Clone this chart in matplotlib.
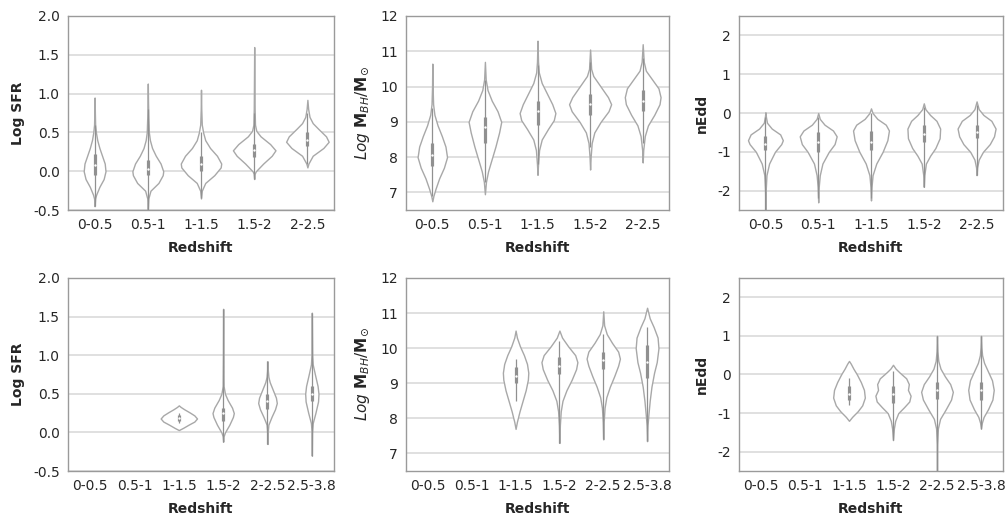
import numpy as np
import matplotlib
matplotlib.use('Agg')
import matplotlib.pyplot as plt

cats_top = ['0-0.5', '0.5-1', '1-1.5', '1.5-2', '2-2.5']
cats_bot = ['0-0.5', '0.5-1', '1-1.5', '1.5-2', '2-2.5', '2.5-3.8']

# violin outlines: (value, half width in category units)
sfr_top = [
    [(-0.45, 0), (-0.35, 0.01), (-0.3, 0.03), (-0.2, 0.09), (-0.1, 0.17), (0.0, 0.205), (0.1, 0.19),
     (0.2, 0.14), (0.3, 0.09), (0.4, 0.05), (0.5, 0.025), (0.6, 0.01), (0.75, 0.005), (0.95, 0)],
    [(-0.5, 0), (-0.35, 0.01), (-0.25, 0.05), (-0.15, 0.2), (-0.05, 0.28), (0.0, 0.29), (0.1, 0.24),
     (0.2, 0.15), (0.3, 0.08), (0.4, 0.04), (0.5, 0.02), (0.7, 0.01), (0.9, 0.004), (1.13, 0)],
    [(-0.35, 0), (-0.25, 0.015), (-0.15, 0.08), (-0.05, 0.25), (0.05, 0.37), (0.1, 0.38), (0.2, 0.3),
     (0.3, 0.17), (0.4, 0.08), (0.5, 0.04), (0.6, 0.015), (0.8, 0.005), (1.05, 0)],
    [(-0.1, 0), (-0.03, 0.01), (0.0, 0.03), (0.1, 0.17), (0.2, 0.33), (0.27, 0.4), (0.35, 0.3),
     (0.45, 0.12), (0.52, 0.04), (0.6, 0.015), (0.8, 0.008), (1.2, 0.004), (1.6, 0)],
    [(0.05, 0), (0.1, 0.02), (0.2, 0.1), (0.3, 0.3), (0.38, 0.4), (0.45, 0.35), (0.55, 0.2),
     (0.62, 0.1), (0.7, 0.04), (0.8, 0.015), (0.92, 0)],
]
# q1, median, q3, whisker low, whisker high
sfr_top_box = [(-0.05, 0.08, 0.22, -0.45, 0.6), (-0.05, 0.03, 0.15, -0.5, 0.8), (0.0, 0.1, 0.2, -0.35, 0.5),
               (0.18, 0.27, 0.35, -0.1, 0.75), (0.32, 0.4, 0.5, 0.1, 0.75)]

mbh_top = [
    [(6.75, 0), (6.9, 0.02), (7.1, 0.06), (7.4, 0.13), (7.7, 0.22), (8.0, 0.28), (8.3, 0.25), (8.6, 0.18),
     (8.9, 0.1), (9.2, 0.04), (9.5, 0.015), (10.0, 0.005), (10.65, 0)],
    [(6.95, 0), (7.3, 0.02), (7.6, 0.06), (7.9, 0.12), (8.3, 0.2), (8.7, 0.27), (9.0, 0.31), (9.3, 0.24),
     (9.6, 0.13), (9.9, 0.05), (10.2, 0.015), (10.7, 0)],
    [(7.5, 0), (7.8, 0.01), (8.2, 0.03), (8.5, 0.08), (8.8, 0.2), (9.05, 0.31), (9.25, 0.34), (9.5, 0.28),
     (9.8, 0.18), (10.1, 0.08), (10.4, 0.025), (10.7, 0.01), (11.3, 0)],
    [(7.65, 0), (8.0, 0.01), (8.4, 0.03), (8.7, 0.08), (9.0, 0.2), (9.3, 0.35), (9.5, 0.4), (9.7, 0.34),
     (10.0, 0.2), (10.3, 0.06), (10.5, 0.02), (11.05, 0)],
    [(7.85, 0), (8.2, 0.01), (8.6, 0.04), (8.9, 0.1), (9.2, 0.22), (9.5, 0.32), (9.7, 0.34), (9.95, 0.3),
     (10.2, 0.18), (10.45, 0.06), (10.7, 0.02), (11.2, 0)],
]
mbh_top_box = [(7.75, 8.05, 8.4, 6.9, 9.4), (8.4, 8.85, 9.15, 7.3, 10.2), (8.9, 9.3, 9.6, 7.8, 10.6),
               (9.2, 9.5, 9.8, 8.3, 10.7), (9.3, 9.6, 9.9, 8.4, 10.8)]

nedd_top = [
    [(-2.5, 0), (-2.0, 0.005), (-1.6, 0.02), (-1.3, 0.07), (-1.0, 0.18), (-0.8, 0.3), (-0.7, 0.33),
     (-0.55, 0.28), (-0.4, 0.12), (-0.25, 0.03), (-0.1, 0.01), (0.02, 0)],
    [(-2.3, 0), (-1.9, 0.01), (-1.6, 0.03), (-1.3, 0.08), (-1.0, 0.2), (-0.8, 0.31), (-0.6, 0.35),
     (-0.45, 0.28), (-0.3, 0.12), (-0.15, 0.03), (0.0, 0)],
    [(-2.25, 0), (-1.9, 0.01), (-1.6, 0.03), (-1.3, 0.1), (-1.0, 0.22), (-0.7, 0.31), (-0.45, 0.34),
     (-0.3, 0.28), (-0.15, 0.12), (0.0, 0.03), (0.12, 0)],
    [(-1.9, 0), (-1.6, 0.01), (-1.3, 0.04), (-1.1, 0.12), (-0.9, 0.22), (-0.65, 0.3), (-0.4, 0.31),
     (-0.2, 0.24), (-0.05, 0.12), (0.1, 0.03), (0.25, 0)],
    [(-1.6, 0), (-1.4, 0.01), (-1.2, 0.04), (-1.0, 0.12), (-0.8, 0.25), (-0.6, 0.33), (-0.4, 0.36),
     (-0.2, 0.28), (-0.05, 0.13), (0.1, 0.04), (0.3, 0)],
]
nedd_top_box = [(-0.95, -0.8, -0.6, -2.5, -0.1), (-1.0, -0.75, -0.5, -2.2, -0.1), (-0.95, -0.75, -0.45, -2.2, 0.0),
                (-0.75, -0.55, -0.3, -1.9, 0.15), (-0.65, -0.5, -0.3, -1.6, 0.2)]

# bottom row: first two redshift bins are empty
sfr_bot = [
    None, None,
    [(0.03, 0), (0.06, 0.1), (0.1, 0.22), (0.14, 0.35), (0.18, 0.41), (0.22, 0.35), (0.26, 0.24),
     (0.3, 0.12), (0.33, 0.04), (0.35, 0)],
    [(-0.12, 0), (-0.05, 0.01), (0.0, 0.04), (0.1, 0.14), (0.2, 0.22), (0.25, 0.24), (0.32, 0.2),
     (0.42, 0.1), (0.5, 0.04), (0.6, 0.01), (1.0, 0.004), (1.6, 0)],
    [(-0.15, 0), (0.0, 0.005), (0.1, 0.02), (0.2, 0.09), (0.3, 0.17), (0.38, 0.21), (0.45, 0.19),
     (0.55, 0.12), (0.65, 0.05), (0.72, 0.02), (0.8, 0.008), (0.92, 0)],
    [(-0.3, 0), (0.0, 0.005), (0.12, 0.02), (0.25, 0.08), (0.4, 0.14), (0.5, 0.15), (0.6, 0.13),
     (0.75, 0.07), (0.88, 0.02), (1.0, 0.008), (1.55, 0)],
]
sfr_bot_box = [None, None, (0.15, 0.18, 0.22, 0.12, 0.25), (0.15, 0.25, 0.32, -0.12, 1.6),
               (0.3, 0.4, 0.5, -0.15, 0.92), (0.4, 0.5, 0.6, -0.3, 1.55)]

mbh_bot = [
    None, None,
    [(7.7, 0), (7.9, 0.03), (8.2, 0.09), (8.5, 0.16), (8.8, 0.23), (9.1, 0.28), (9.3, 0.29), (9.55, 0.26),
     (9.8, 0.19), (10.05, 0.1), (10.3, 0.03), (10.5, 0)],
    [(7.3, 0), (7.8, 0.01), (8.2, 0.03), (8.5, 0.07), (8.8, 0.16), (9.1, 0.28), (9.4, 0.38), (9.6, 0.41),
     (9.8, 0.36), (10.05, 0.2), (10.3, 0.06), (10.5, 0)],
    [(7.4, 0), (7.9, 0.01), (8.3, 0.03), (8.6, 0.07), (8.9, 0.15), (9.2, 0.25), (9.5, 0.34), (9.7, 0.38),
     (9.9, 0.34), (10.15, 0.2), (10.4, 0.08), (10.65, 0.02), (11.05, 0)],
    [(7.35, 0), (7.8, 0.01), (8.1, 0.03), (8.5, 0.06), (8.9, 0.1), (9.3, 0.16), (9.6, 0.22), (10.0, 0.26),
     (10.3, 0.24), (10.6, 0.15), (10.85, 0.06), (11.15, 0)],
]
mbh_bot_box = [None, None, (9.0, 9.2, 9.45, 8.5, 9.7), (9.25, 9.5, 9.75, 7.3, 10.2),
               (9.4, 9.65, 9.9, 7.4, 10.4), (9.15, 9.6, 10.1, 7.35, 10.6)]

nedd_bot = [
    None, None,
    [(-1.2, 0), (-1.1, 0.07), (-0.95, 0.2), (-0.8, 0.3), (-0.6, 0.36), (-0.4, 0.34), (-0.2, 0.27),
     (0.0, 0.18), (0.15, 0.1), (0.28, 0.04), (0.35, 0)],
    [(-1.7, 0), (-1.4, 0.02), (-1.2, 0.05), (-1.0, 0.12), (-0.85, 0.25), (-0.7, 0.37), (-0.55, 0.4),
     (-0.4, 0.34), (-0.25, 0.36), (-0.1, 0.3), (0.05, 0.15), (0.15, 0.06), (0.25, 0)],
    [(-2.5, 0), (-1.8, 0.005), (-1.4, 0.02), (-1.15, 0.07), (-0.9, 0.2), (-0.65, 0.32), (-0.45, 0.36),
     (-0.25, 0.3), (-0.05, 0.18), (0.15, 0.08), (0.35, 0.03), (0.6, 0.01), (1.0, 0)],
    [(-1.4, 0), (-1.25, 0.02), (-1.1, 0.06), (-0.9, 0.16), (-0.65, 0.26), (-0.4, 0.29), (-0.15, 0.25),
     (0.1, 0.15), (0.3, 0.07), (0.5, 0.025), (0.7, 0.01), (1.0, 0)],
]
nedd_bot_box = [None, None, (-0.65, -0.5, -0.3, -0.8, -0.1), (-0.75, -0.5, -0.3, -1.7, 0.1),
                (-0.63, -0.4, -0.2, -2.5, 1.0), (-0.65, -0.4, -0.2, -1.4, 1.0)]

mbh_label = r'$\mathit{Log}\ \mathbf{M}_{BH}/\mathbf{M}_{\odot}$'

panels = [
    (sfr_top, sfr_top_box, cats_top, 'Log SFR', (-0.5, 2.0), [-0.5, 0.0, 0.5, 1.0, 1.5, 2.0], '%.1f'),
    (mbh_top, mbh_top_box, cats_top, mbh_label, (6.5, 12), [7, 8, 9, 10, 11, 12], '%d'),
    (nedd_top, nedd_top_box, cats_top, 'nEdd', (-2.5, 2.5), [-2, -1, 0, 1, 2], '%d'),
    (sfr_bot, sfr_bot_box, cats_bot, 'Log SFR', (-0.5, 2.0), [-0.5, 0.0, 0.5, 1.0, 1.5, 2.0], '%.1f'),
    (mbh_bot, mbh_bot_box, cats_bot, mbh_label, (6.5, 12), [7, 8, 9, 10, 11, 12], '%d'),
    (nedd_bot, nedd_bot_box, cats_bot, 'nEdd', (-2.5, 2.5), [-2, -1, 0, 1, 2], '%d'),
]

rects = [
    [0.0676, 0.592, 0.2644, 0.377], [0.4036, 0.592, 0.2614, 0.377], [0.7346, 0.592, 0.2624, 0.377],
    [0.0676, 0.0854, 0.2644, 0.375], [0.4036, 0.0854, 0.2614, 0.375], [0.7346, 0.0854, 0.2624, 0.375],
]

fig = plt.figure(figsize=(10.06, 5.15), dpi=100)

for rect, (profiles, boxes, cats, ylabel, ylim, yticks, fmt) in zip(rects, panels):
    ax = fig.add_axes(rect)
    for i, (prof, box) in enumerate(zip(profiles, boxes)):
        if prof is None:
            continue
        prof = np.array(prof)
        stats = [{'coords': prof[:, 0], 'vals': prof[:, 1], 'mean': box[1], 'median': box[1],
                  'min': prof[0, 0], 'max': prof[-1, 0]}]
        parts = ax.violin(stats, positions=[i], widths=[2 * prof[:, 1].max()],
                          showmeans=False, showextrema=False, showmedians=False)
        for b in parts['bodies']:
            b.set_facecolor('white')
            b.set_edgecolor('#a8a8a8')
            b.set_linewidth(1.0)
            b.set_alpha(1)
            b.set_zorder(2)
        q1, med, q3, lo, hi = box
        ax.vlines(i, lo, hi, color='#909090', lw=0.9, zorder=3)
        ax.vlines(i, q1, q3, color='#909090', lw=2.3, zorder=3)
        ax.scatter([i], [med], s=3, color='white', zorder=4, linewidths=0)
    ax.set_xlim(-0.5, len(cats) - 0.5)
    ax.set_xticks(range(len(cats)))
    ax.set_xticklabels(cats)
    ax.set_ylim(*ylim)
    ax.set_yticks(yticks)
    ax.set_yticklabels([fmt % t for t in yticks])
    ax.yaxis.grid(True, color='#dddddd', lw=1.3, zorder=0)
    ax.set_axisbelow(True)
    ax.tick_params(length=0, labelsize=10, colors='#262626', pad=6)
    for s in ax.spines.values():
        s.set_color('#9a9a9a')
        s.set_linewidth(1.0)
    ax.set_xlabel('Redshift', fontsize=10, fontweight='bold', color='#262626', labelpad=6)
    lsize = 11 if ylabel == mbh_label else 10
    ax.set_ylabel(ylabel, fontsize=lsize, fontweight='bold', color='#262626', labelpad=6)

fig.savefig('out.png', dpi=100)
